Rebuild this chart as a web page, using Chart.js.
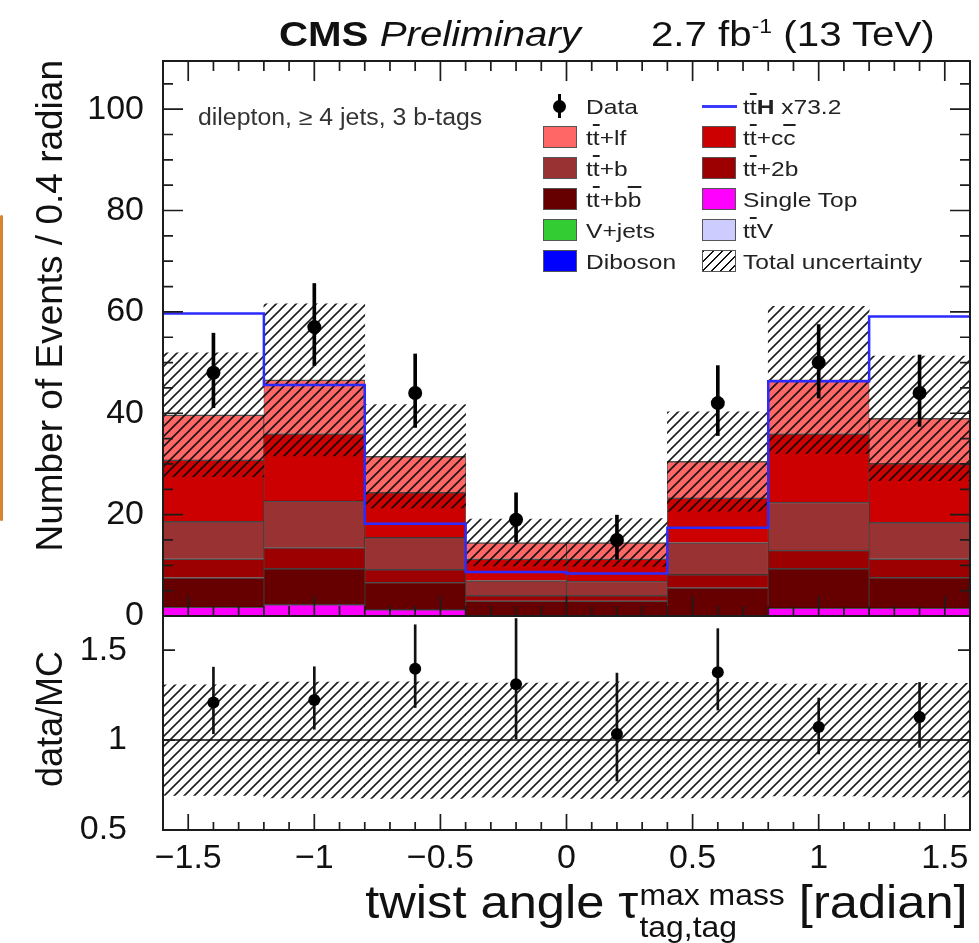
<!DOCTYPE html>
<html>
<head>
<meta charset="utf-8">
<script src="https://cdn.jsdelivr.net/npm/chart.js@4.4.1/dist/chart.umd.min.js"></script>
<style>
  html, body { margin: 0; padding: 0; background: #fff; }
  #wrap { position: relative; width: 979px; height: 943px; overflow: hidden;
          font-family: 'Liberation Sans', Arial, Helvetica, sans-serif; color: #111; }
  #plot { position: absolute; left: 0; top: 0; }
  .txt { position: absolute; white-space: nowrap; line-height: 1; }
  .ov { text-decoration: overline; }
  .swatch { position: absolute; width: 34px; height: 22px; box-sizing: border-box; border: 1.5px solid #555; }
  .ss { display: inline-block; font-size: 29px; line-height: 32px; vertical-align: -19px; margin-left: 1px; }
  .ss span { display: block; }
</style>
</head>
<body>
<div id="wrap">
  <canvas id="plot" width="979" height="943"></canvas>

  <div class="txt" style="left:279px; top:16px; font-size:35px; transform:scaleX(1.15); transform-origin:0 0;"><b>CMS</b> <i>Preliminary</i></div>
  <div class="txt" style="right:44px; top:16px; font-size:35px; transform:scaleX(1.15); transform-origin:100% 0;">2.7 fb<span style="font-size:20px; vertical-align:13px;">-1</span> (13 TeV)</div>

  <div class="txt" style="left:198px; top:105.5px; font-size:23px; color:#333; transform:scaleX(1.08); transform-origin:0 0;">dilepton, &#8805; 4 jets, 3 b-tags</div>

  <div class="txt" style="left:30.7px; top:580px; width:520px; text-align:right; font-size:37px; transform:rotate(-90deg); transform-origin:0 0;">Number of Events / 0.4 radian</div>
  <div class="txt" style="left:31.5px; top:868.5px; width:300px; text-align:center; font-size:36px; transform:rotate(-90deg); transform-origin:0 0;">data/MC</div>

  <div class="txt" style="right:11px; top:879px; font-size:46px; transform:scaleX(1.1); transform-origin:100% 0;">twist angle &#964;<span class="ss"><span>max mass</span><span>tag,tag</span></span> [radian]</div>

  <div style="position:absolute; left:0; top:215px; width:3px; height:306px; background:#d7842e; border-radius:2px;"></div>

  <div id="legend"></div>
</div>

<script>
// ---- binning ----
const binEdges = [-1.6, -1.2, -0.8, -0.4, 0.0, 0.4, 0.8, 1.2, 1.6];

// ---- MC stack, events per bin (bottom of stack first) ----
const singleTop = [1.8, 2.3, 1.3, 0, 0, 0, 1.6, 1.6];
const ttbb      = [5.8, 7.1, 5.4, 3.0, 3.0, 5.6, 7.8, 6.1];
const tt2b      = [3.7, 4.1, 2.5, 1.1, 1.1, 2.6, 3.6, 3.6];
const ttb       = [7.4, 9.2, 6.3, 2.9, 2.8, 6.3, 9.5, 7.2];
const ttcc      = [12.1, 13.3, 8.9, 4.3, 4.4, 8.8, 13.5, 11.6];
const ttlf      = [8.9, 10.6, 7.1, 3.2, 3.2, 7.2, 10.6, 8.9];
const vjets     = [0, 0, 0, 0, 0, 0, 0, 0];
const ttv       = [0, 0, 0, 0, 0, 0, 0, 0];
const diboson   = [0, 0, 0, 0, 0, 0, 0, 0];

// total uncertainty on the MC sum
const totalUnc = [12.2, 15.0, 10.2, 4.6, 4.7, 9.8, 14.5, 12.3];

// ttH signal x73.2 (line, not stacked)
const tthScaled = [59.7, 45.6, 18.2, 8.7, 8.4, 17.4, 46.3, 59.1];

// data
const dataCounts  = [48, 57, 44, 19, 15, 42, 50, 44];
const dataErrUp   = [7.8, 8.6, 7.7, 5.3, 4.9, 7.4, 7.5, 7.5];
const dataErrDown = [6.9, 7.6, 6.8, 4.4, 3.8, 6.4, 7.0, 6.6];

// ---- tick labels ----
const xTickValues     = [-1.5, -1, -0.5, 0, 0.5, 1, 1.5];
const yTickValues     = [0, 20, 40, 60, 80, 100];
const ratioTickValues = [0.5, 1, 1.5];

// ---- derived tables ----
const centers = binEdges.slice(0, -1).map((e, i) => (e + binEdges[i + 1]) / 2);
const mcTotal = centers.map((_, i) => singleTop[i] + ttbb[i] + tt2b[i] + ttb[i] + ttcc[i] + ttlf[i] + vjets[i] + ttv[i] + diboson[i]);
const pts = arr => centers.map((c, i) => ({ x: c, y: arr[i] }));

const canvas = document.getElementById('plot');
const ctx = canvas.getContext('2d');

function makeHatch() {
  const s = 10;
  const c = document.createElement('canvas');
  c.width = s; c.height = s;
  const g = c.getContext('2d');
  g.strokeStyle = 'rgba(10,10,10,0.92)';
  g.lineWidth = 1.6;
  g.beginPath();
  g.moveTo(0, s); g.lineTo(s, 0);
  g.moveTo(-s / 2, s / 2); g.lineTo(s / 2, -s / 2);
  g.moveTo(s / 2, s * 1.5); g.lineTo(s * 1.5, s / 2);
  g.stroke();
  return ctx.createPattern(c, 'repeat');
}
const hatch = makeHatch();

function stackSet(label, arr, color, bw) {
  return {
    label: label, type: 'bar', data: pts(arr), stack: 'mc', yAxisID: 'y',
    backgroundColor: color, borderColor: 'rgba(0,0,0,0.7)',
    borderWidth: bw === 0 ? 0 : { top: 1.5, left: 0.75, right: 0.75, bottom: 0 },
    borderSkipped: false
  };
}

const fmt = v => (v < 0 ? '\u2212' + Math.abs(v) : String(v));

// frame, inward ROOT-style ticks and the unity line of the ratio pad
const frameTicks = {
  id: 'frameTicks',
  beforeDatasetsDraw(chart) {
    const { ctx, scales: { x, yr } } = chart;
    const p = yr.getPixelForValue(1);
    ctx.save();
    ctx.strokeStyle = '#444';
    ctx.lineWidth = 2;
    ctx.beginPath(); ctx.moveTo(x.left, p); ctx.lineTo(x.right, p); ctx.stroke();
    ctx.restore();
  },
  afterDatasetsDraw(chart) {
    const { ctx, scales: { x, y, yr } } = chart;
    ctx.save();
    ctx.strokeStyle = '#1c1c1c';
    ctx.lineWidth = 1.7;
    ctx.beginPath();
    for (let i = -16; i <= 16; i++) {
      const px = x.getPixelForValue(i / 10);
      const major = i % 5 === 0;
      const l = major ? 20 : 10;
      ctx.moveTo(px, y.top); ctx.lineTo(px, y.top + l);
      ctx.moveTo(px, y.bottom); ctx.lineTo(px, y.bottom - l);
      const lr = major ? 16 : 8;
      ctx.moveTo(px, yr.bottom); ctx.lineTo(px, yr.bottom - lr);
    }
    for (let v = 0; v <= y.max; v += 5) {
      const py = y.getPixelForValue(v);
      const l = v % 20 === 0 ? 20 : 10;
      ctx.moveTo(x.left, py); ctx.lineTo(x.left + l, py);
      ctx.moveTo(x.right, py); ctx.lineTo(x.right - l, py);
    }
    ratioTickValues.forEach(v => {
      const py = yr.getPixelForValue(v);
      ctx.moveTo(x.left, py); ctx.lineTo(x.left + 12, py);
      ctx.moveTo(x.right, py); ctx.lineTo(x.right - 12, py);
    });
    ctx.stroke();
    ctx.lineWidth = 2;
    ctx.strokeRect(x.left, y.top, x.right - x.left, y.bottom - y.top);
    ctx.strokeRect(x.left, yr.top, x.right - x.left, yr.bottom - yr.top);
    ctx.restore();
  }
};

Chart.defaults.font.family = "'Liberation Sans', Arial, Helvetica, sans-serif";
Chart.defaults.color = '#111';

const tickFont = { size: 34 };

new Chart(canvas, {
  type: 'bar',
  data: {
    datasets: [
      // data points and error bars (drawn on top)
      { label: 'Data', type: 'line', data: pts(dataCounts), yAxisID: 'y', showLine: false,
        pointRadius: 7, pointBackgroundColor: '#000', pointBorderWidth: 0 },
      { label: 'Data err', type: 'bar', grouped: false, barThickness: 3, yAxisID: 'y',
        data: centers.map((c, i) => ({ x: c, y: [dataCounts[i] - dataErrDown[i], dataCounts[i] + dataErrUp[i]] })),
        backgroundColor: '#000' },
      { label: 'ratio', type: 'line', yAxisID: 'yr', showLine: false,
        data: centers.map((c, i) => ({ x: c, y: dataCounts[i] / mcTotal[i] })),
        pointRadius: 6, pointBackgroundColor: '#000', pointBorderWidth: 0 },
      { label: 'ratio err', type: 'bar', grouped: false, barThickness: 2, yAxisID: 'yr',
        data: centers.map((c, i) => ({ x: c, y: [(dataCounts[i] - dataErrDown[i]) / mcTotal[i], (dataCounts[i] + dataErrUp[i]) / mcTotal[i]] })),
        backgroundColor: '#111' },
      // ttH x73.2 step line
      { label: 'ttH x73.2', type: 'line', yAxisID: 'y', stepped: true,
        data: binEdges.map((e, i) => ({ x: e, y: tthScaled[Math.min(i, tthScaled.length - 1)] })),
        borderColor: '#2b2bff', borderWidth: 2.5, pointRadius: 0, fill: false },
      // uncertainty bands
      { label: 'Total uncertainty', type: 'bar', grouped: false, yAxisID: 'y',
        data: centers.map((c, i) => ({ x: c, y: [mcTotal[i] - totalUnc[i], mcTotal[i] + totalUnc[i]] })),
        backgroundColor: hatch, borderWidth: 0 },
      { label: 'ratio unc', type: 'bar', grouped: false, yAxisID: 'yr',
        data: centers.map((c, i) => ({ x: c, y: [1 - totalUnc[i] / mcTotal[i], 1 + totalUnc[i] / mcTotal[i]] })),
        backgroundColor: hatch, borderWidth: 0 },
      // stacked backgrounds, bottom of the stack first
      stackSet('Diboson', diboson, '#0000ff', 0),
      stackSet('V+jets', vjets, '#33cc33', 0),
      stackSet('ttV', ttv, '#ccccff', 0),
      stackSet('Single Top', singleTop, '#ff00ff'),
      stackSet('tt+bb', ttbb, '#660000'),
      stackSet('tt+2b', tt2b, '#9c0000'),
      stackSet('tt+b', ttb, '#993333'),
      stackSet('tt+cc', ttcc, '#cc0000'),
      stackSet('tt+lf', ttlf, '#ff6666')
    ].map((d, i) => Object.assign(d, { order: i }))
  },
  options: {
    responsive: false,
    animation: false,
    devicePixelRatio: 1,
    layout: { padding: { top: 61, right: 9, left: 0, bottom: 0 } },
    plugins: { legend: { display: false }, tooltip: { enabled: false } },
    datasets: { bar: { categoryPercentage: 1, barPercentage: 1 } },
    scales: {
      x: {
        type: 'linear', min: -1.6, max: 1.6, offset: false,
        grid: { display: false, offset: false }, border: { display: false },
        ticks: { padding: 0, maxRotation: 0, autoSkip: false, font: tickFont, color: '#111', callback: fmt },
        afterBuildTicks: s => { s.ticks = xTickValues.map(v => ({ value: v })); },
        afterFit: s => { s.height = 113; }
      },
      y: {
        type: 'linear', position: 'left', stack: 'panels', stackWeight: 555, weight: 2,
        min: 0, max: 109.5,
        grid: { display: false }, border: { display: false },
        ticks: { padding: 11, font: tickFont, color: '#111', callback: fmt },
        afterBuildTicks: s => { s.ticks = yTickValues.map(v => ({ value: v })); },
        afterFit: s => { s.width = 163; }
      },
      yr: {
        type: 'linear', position: 'left', stack: 'panels', stackWeight: 214, weight: 1,
        min: 0.5, max: 1.69,
        grid: { display: false }, border: { display: false },
        ticks: { padding: 28, font: tickFont, color: '#111', callback: fmt },
        afterBuildTicks: s => { s.ticks = ratioTickValues.map(v => ({ value: v })); },
        afterFit: s => { s.width = 163; }
      }
    }
  },
  plugins: [frameTicks]
});

// ---- legend (two columns, html text) ----
const legendRows = [
  ['data', 'Data', null, 'tth', 't<span class="ov">t</span><b>H</b> x73.2', null],
  ['box', 't<span class="ov">t</span>+lf', '#ff6666', 'box', 't<span class="ov">t</span>+c<span class="ov">c</span>', '#cc0000'],
  ['box', 't<span class="ov">t</span>+b', '#993333', 'box', 't<span class="ov">t</span>+2b', '#9c0000'],
  ['box', 't<span class="ov">t</span>+b<span class="ov">b</span>', '#660000', 'box', 'Single Top', '#ff00ff'],
  ['box', 'V+jets', '#33cc33', 'box', 't<span class="ov">t</span>V', '#ccccff'],
  ['box', 'Diboson', '#0000ff', 'hatch', 'Total uncertainty', null]
];
const legendCols = [{ box: 543, text: 586 }, { box: 702, text: 743 }];
const leg = document.getElementById('legend');
legendRows.forEach((row, r) => {
  const yc = 106 + 31 * r;
  [0, 1].forEach(k => {
    const kind = row[k * 3], label = row[k * 3 + 1], color = row[k * 3 + 2];
    const col = legendCols[k];
    let mark = '';
    if (kind === 'box') {
      mark = `<div class="swatch" style="left:${col.box}px; top:${yc - 11}px; background:${color};"></div>`;
    } else if (kind === 'hatch') {
      mark = `<div class="swatch" style="left:${col.box}px; top:${yc - 11}px; background:repeating-linear-gradient(135deg, #111 0 1.4px, #fff 1.4px 6.5px);"></div>`;
    } else if (kind === 'data') {
      mark = `<div style="position:absolute; left:${col.box + 15}px; top:${yc - 12}px; width:3px; height:24px; background:#000;"></div>` +
             `<div style="position:absolute; left:${col.box + 10}px; top:${yc - 6.5}px; width:13px; height:13px; border-radius:50%; background:#000;"></div>`;
    } else if (kind === 'tth') {
      mark = `<div style="position:absolute; left:${col.box}px; top:${yc - 1.5}px; width:35px; height:3px; background:#3a3aff;"></div>`;
    }
    leg.insertAdjacentHTML('beforeend', mark +
      `<div class="txt" style="left:${col.text}px; top:${yc - 10.3}px; font-size:21px; color:#222; transform:scaleX(1.17); transform-origin:0 0;">${label}</div>`);
  });
});
</script>
</body>
</html>
